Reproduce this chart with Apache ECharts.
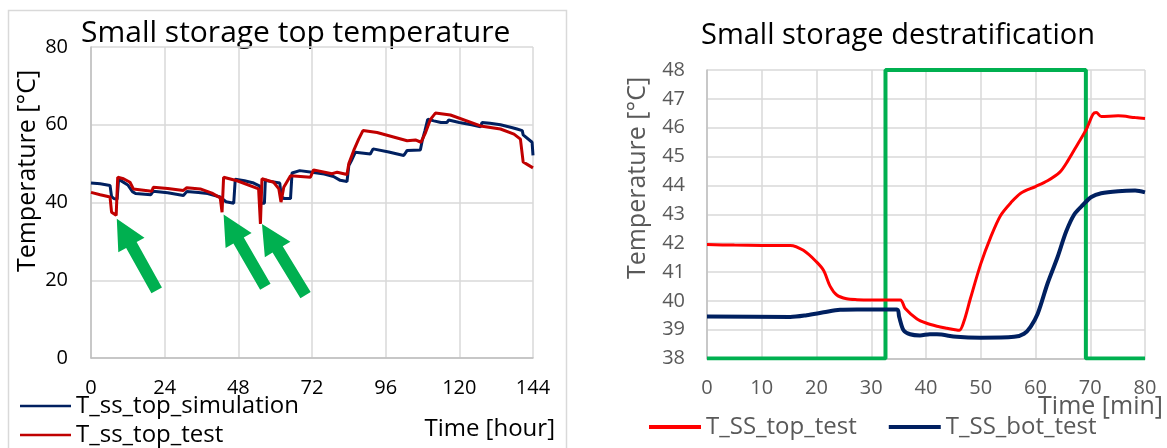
<!DOCTYPE html>
<html>
<head>
<meta charset="utf-8">
<script src="https://cdn.jsdelivr.net/npm/echarts@6/dist/echarts.min.js"></script>
<style>
  html, body { margin: 0; padding: 0; background: #fff; }
  #chart { width: 1167px; height: 448px; }
</style>
</head>
<body>
<div id="chart"></div>
<script>
// Left chart: small storage top temperature (hours)
const simHours = [0, 3, 6.2, 6.7, 7.5, 8.5, 9.0, 10, 12, 13.5, 14.5, 19.5, 20.3, 25, 30.1, 31.2, 35, 38, 42.1, 44, 46.5, 47, 50, 53, 55.0, 55.4, 56.5, 56.8, 58, 61.5, 62, 63, 65, 65.5, 68, 72, 76, 79, 81.2, 83.4, 84, 85, 86.1, 91, 91.9, 97, 101.9, 103, 107.3, 107.9, 108.8, 109.7, 111.7, 114, 116, 116.5, 120, 124, 126.9, 127.4, 130, 133.4, 137, 138.8, 140.5, 140.8, 143.7, 144];
const simTemps = [45.0, 44.8, 44.4, 41.5, 41.0, 40.8, 46.0, 45.5, 44.5, 42.8, 42.3, 42.0, 42.9, 42.5, 41.8, 42.8, 42.6, 42.3, 41.4, 40.2, 39.8, 46.0, 45.6, 45.0, 44.2, 39.8, 39.8, 45.8, 45.5, 45.0, 41.5, 41.0, 41.0, 47.6, 48.2, 47.8, 47.3, 46.7, 45.7, 45.4, 49.5, 51.0, 52.9, 52.5, 53.8, 53.0, 52.1, 53.4, 53.5, 55.9, 58.5, 61.4, 61.0, 60.6, 60.6, 61.2, 60.6, 60.0, 59.5, 60.6, 60.4, 60.0, 59.3, 58.9, 58.5, 57.4, 55.5, 52.1];

const testHours = [0, 3, 6.2, 6.7, 8.2, 8.7, 10.6, 12.7, 13.8, 14.4, 19.8, 20.3, 25, 30.1, 31.2, 35.6, 39.4, 42.1, 42.7, 43.2, 47.6, 54.6, 55.2, 55.7, 59.5, 61.2, 61.9, 62.8, 65, 71.5, 72.5, 78.5, 80.2, 83.4, 84, 85.6, 87.2, 88.6, 93.2, 103, 105.7, 107.5, 109, 110.6, 112.2, 117.1, 126.9, 133.4, 137.8, 139.9, 140.8, 142.1, 144];
const testTemps = [42.6, 42.0, 41.4, 37.5, 36.7, 46.5, 46.1, 45.2, 43.5, 43.1, 42.9, 43.9, 43.6, 43.1, 43.8, 43.5, 42.4, 41.2, 37.5, 46.5, 45.6, 43.5, 34.5, 46.1, 45.2, 43.5, 40.1, 43.9, 46.9, 46.5, 48.4, 47.4, 47.8, 47.2, 50.0, 53.4, 56.3, 58.5, 58.0, 55.9, 56.1, 55.5, 58.0, 61.4, 63.0, 62.5, 59.7, 58.9, 57.6, 56.3, 50.4, 49.8, 48.9];

// arrows: [tip hour, tip temp, tail hour, tail temp]
const arrows = [
  [8.4, 35.8, 21.4, 17.4],
  [43.2, 36.9, 56.8, 18.3],
  [55.7, 34.5, 69.9, 16.2]
];

// Right chart: destratification (minutes)
const topMin = [0, 5, 10, 15.2, 17.6, 20, 21.3, 22.5, 23.7, 25.5, 27.4, 30, 35.3, 36.2, 38.3, 40.0, 42, 43.8, 45.3, 46.1, 46.9, 48.1, 50, 51.8, 53.6, 55.5, 57.3, 60, 62.2, 64.4, 65.9, 67.7, 69.3, 70.5, 71.1, 72, 75.1, 78.2, 80];
const topTemps = [41.95, 41.93, 41.92, 41.92, 41.75, 41.35, 41.05, 40.5, 40.2, 40.07, 40.04, 40.03, 40.03, 39.73, 39.38, 39.23, 39.12, 39.05, 39.0, 38.98, 39.27, 40.07, 41.28, 42.2, 42.95, 43.4, 43.73, 43.96, 44.16, 44.45, 44.85, 45.43, 45.95, 46.47, 46.53, 46.39, 46.41, 46.35, 46.32];

const botMin = [0, 15.2, 18.2, 21.3, 24.3, 27.4, 34.7, 35.1, 35.9, 37.1, 38.9, 40.7, 42, 45.6, 50, 56.1, 57.9, 59.1, 60.4, 62.2, 64, 65.6, 67.1, 68.7, 70.2, 72, 75.1, 78.2, 80];
const botTemps = [39.46, 39.44, 39.5, 39.6, 39.69, 39.7, 39.7, 39.44, 38.98, 38.84, 38.8, 38.84, 38.84, 38.75, 38.72, 38.75, 38.86, 39.1, 39.55, 40.6, 41.5, 42.4, 43.0, 43.33, 43.6, 43.73, 43.8, 43.82, 43.76];

const pumpMin = [0, 32.6, 32.6, 69.2, 69.2, 80];
const pumpVals = [38, 38, 48, 48, 38, 38];

const zip = (xs, ys) => xs.map((x, i) => [x, ys[i]]);

const FONT = "Open Sans";
const NAVY = "#002060";
const DARKRED = "#C00000";
const RED = "#FF0000";
const GREEN = "#00B050";
const GRID = "#d9d9d9";
const GRAY_TXT = "#595959";

function arrowItem(params, api) {
  const tip = api.coord([api.value(0), api.value(1)]);
  const tail = api.coord([api.value(2), api.value(3)]);
  const dx = tip[0] - tail[0], dy = tip[1] - tail[1];
  const len = Math.sqrt(dx * dx + dy * dy);
  const ux = dx / len, uy = dy / len;
  const nx = -uy, ny = ux;
  const headLen = 30, headHalf = 15, shaftHalf = 6;
  const bx = tip[0] - ux * headLen, by = tip[1] - uy * headLen;
  const pts = [
    [tail[0] + nx * shaftHalf, tail[1] + ny * shaftHalf],
    [bx + nx * shaftHalf, by + ny * shaftHalf],
    [bx + nx * headHalf, by + ny * headHalf],
    tip,
    [bx - nx * headHalf, by - ny * headHalf],
    [bx - nx * shaftHalf, by - ny * shaftHalf],
    [tail[0] - nx * shaftHalf, tail[1] - ny * shaftHalf]
  ];
  return { type: "polygon", shape: { points: pts }, style: { fill: GREEN } };
}

function leftLegend(name, top) {
  return {
    data: [name], left: 20, top, padding: 0,
    icon: "rect", itemWidth: 51, itemHeight: 2.5, itemGap: 0,
    selectedMode: false,
    textStyle: { fontSize: 24, lineHeight: 24, color: "#000", fontFamily: FONT }
  };
}

const chart = echarts.init(document.getElementById("chart"));
chart.setOption({
  animation: false,
  textStyle: { fontFamily: FONT },
  grid: [
    { left: 91, right: 634, top: 47, bottom: 90 },
    { left: 707, right: 22, top: 70, bottom: 89.5 }
  ],
  xAxis: [
    {
      gridIndex: 0, type: "value", min: 0, max: 144, interval: 24,
      axisLine: { lineStyle: { color: "#bfbfbf", width: 1.5 } },
      axisTick: { show: false },
      splitLine: { show: true, lineStyle: { color: GRID, width: 1.5 } },
      axisLabel: { color: "#000", fontSize: 20, margin: 20, fontFamily: FONT }
    },
    {
      gridIndex: 1, type: "value", min: 0, max: 80, interval: 10,
      axisLine: { lineStyle: { color: "#bfbfbf", width: 1.5 } },
      axisTick: { show: false },
      splitLine: { show: true, lineStyle: { color: GRID, width: 1.5 } },
      axisLabel: { color: GRAY_TXT, fontSize: 20, margin: 20, fontFamily: FONT }
    }
  ],
  yAxis: [
    {
      gridIndex: 0, type: "value", min: 0, max: 80, interval: 20,
      axisLine: { show: true, lineStyle: { color: "#bfbfbf", width: 1.5 } },
      axisTick: { show: false },
      splitLine: { lineStyle: { color: GRID, width: 1.5 } },
      axisLabel: { color: "#000", fontSize: 20, margin: 23, fontFamily: FONT }
    },
    {
      gridIndex: 1, type: "value", min: 38, max: 48, interval: 1,
      axisLine: { show: true, lineStyle: { color: "#bfbfbf", width: 1.5 } },
      axisTick: { show: false },
      splitLine: { lineStyle: { color: GRID, width: 1.5 } },
      axisLabel: { color: GRAY_TXT, fontSize: 20, margin: 22, fontFamily: FONT }
    }
  ],
  legend: [
    leftLegend("T_ss_top_simulation", 394),
    leftLegend("T_ss_top_test", 423),
    {
      data: ["T_SS_top_test", "T_SS_bot_test"],
      orient: "horizontal", left: 649, top: 415, padding: 0,
      icon: "rect", itemWidth: 52, itemHeight: 4, itemGap: 32,
      selectedMode: false,
      textStyle: { fontSize: 24, lineHeight: 24, color: GRAY_TXT, fontFamily: FONT }
    }
  ],
  graphic: [
    { type: "rect", shape: { x: 8.5, y: 10.5, width: 558, height: 460 }, style: { fill: "none", stroke: GRID, lineWidth: 1.5 }, silent: true, z: -10 },
    { type: "text", x: 81, y: 33, style: { text: "Small storage top temperature", font: "30px 'Open Sans'", fill: "#000", textVerticalAlign: "middle" } },
    { type: "text", x: 701, y: 36, style: { text: "Small storage destratification", font: "29px 'Open Sans'", fill: "#000", textVerticalAlign: "middle" } },
    { type: "text", x: 28, y: 171, rotation: Math.PI / 2, style: { text: "Temperature [°C]", font: "25px 'Open Sans'", fill: "#000", textAlign: "center", textVerticalAlign: "middle" } },
    { type: "text", x: 638, y: 178, rotation: Math.PI / 2, style: { text: "Temperature [°C]", font: "25px 'Open Sans'", fill: GRAY_TXT, textAlign: "center", textVerticalAlign: "middle" } },
    { type: "text", x: 555, y: 429, style: { text: "Time [hour]", font: "24px 'Open Sans'", fill: "#000", textAlign: "right", textVerticalAlign: "middle" } },
    { type: "text", x: 1163, y: 407, style: { text: "Time [min]", font: "25px 'Open Sans'", fill: GRAY_TXT, textAlign: "right", textVerticalAlign: "middle" } }
  ],
  series: [
    {
      name: "T_ss_top_simulation", type: "line", xAxisIndex: 0, yAxisIndex: 0,
      data: zip(simHours, simTemps), showSymbol: false,
      lineStyle: { color: NAVY, width: 3 }, itemStyle: { color: NAVY }
    },
    {
      name: "T_ss_top_test", type: "line", xAxisIndex: 0, yAxisIndex: 0,
      data: zip(testHours, testTemps), showSymbol: false,
      lineStyle: { color: DARKRED, width: 3 }, itemStyle: { color: DARKRED }
    },
    {
      name: "arrows", type: "custom", xAxisIndex: 0, yAxisIndex: 0,
      data: arrows, encode: { x: [0, 2], y: [1, 3] },
      renderItem: arrowItem, clip: false, silent: true, z: 5
    },
    {
      name: "pump", type: "line", xAxisIndex: 1, yAxisIndex: 1,
      data: zip(pumpMin, pumpVals), showSymbol: false,
      lineStyle: { color: GREEN, width: 4 }, itemStyle: { color: GREEN }
    },
    {
      name: "T_SS_top_test", type: "line", xAxisIndex: 1, yAxisIndex: 1,
      data: zip(topMin, topTemps), showSymbol: false, smooth: 0.3,
      lineStyle: { color: RED, width: 3 }, itemStyle: { color: RED }
    },
    {
      name: "T_SS_bot_test", type: "line", xAxisIndex: 1, yAxisIndex: 1,
      data: zip(botMin, botTemps), showSymbol: false, smooth: 0.3,
      lineStyle: { color: NAVY, width: 4 }, itemStyle: { color: NAVY }
    }
  ]
});
</script>
</body>
</html>
